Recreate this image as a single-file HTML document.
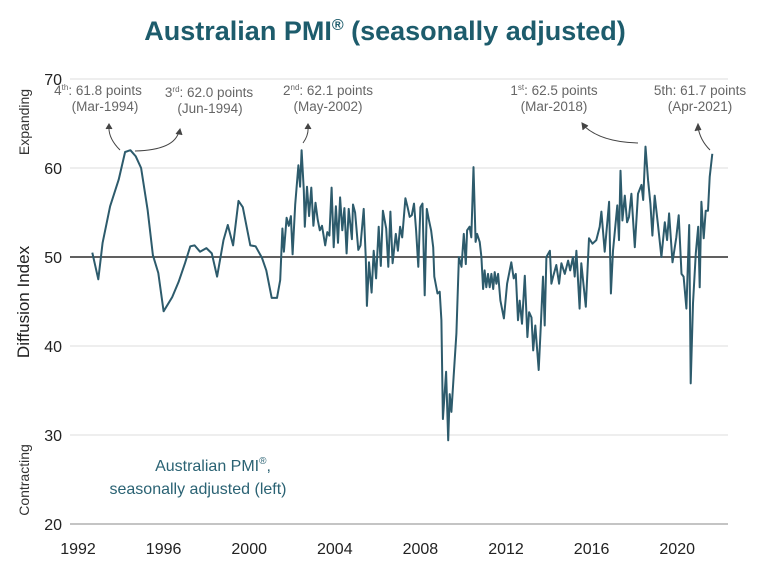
<!DOCTYPE html>
<html><head><meta charset="utf-8"><style>
body{margin:0;background:#fff;width:760px;height:573px;overflow:hidden;font-family:"Liberation Sans",sans-serif}
svg text{font-family:"Liberation Sans",sans-serif}
</style></head><body>
<svg id="chart" width="760" height="573" viewBox="0 0 760 573">
<text x="385" y="40" text-anchor="middle" font-size="27" font-weight="bold" fill="#1d5c6c">Australian PMI<tspan font-size="16" dy="-10">®</tspan><tspan dy="10"> (seasonally adjusted)</tspan></text>
<g id="grid"></g><g id="yticks"></g><g id="xticks"></g>
<text transform="translate(29,302) rotate(-90)" text-anchor="middle" font-size="17" fill="#222">Diffusion Index</text>
<text transform="translate(29,122) rotate(-90)" text-anchor="middle" font-size="14" fill="#333">Expanding</text>
<text transform="translate(29,480) rotate(-90)" text-anchor="middle" font-size="14" fill="#333">Contracting</text>
<text x="213" y="471" text-anchor="middle" font-size="16" fill="#2a6273">Australian PMI<tspan font-size="10" dy="-7">®</tspan><tspan dy="7">,</tspan></text>
<text x="198" y="494" text-anchor="middle" font-size="16" fill="#2a6273">seasonally adjusted (left)</text>
<g font-size="13.5" fill="#666" text-anchor="middle">
<text x="98" y="95">4<tspan font-size="8" dy="-5">th</tspan><tspan dy="5">: 61.8 points</tspan></text><text x="105" y="111">(Mar-1994)</text>
<text x="209" y="97">3<tspan font-size="8" dy="-5">rd</tspan><tspan dy="5">: 62.0 points</tspan></text><text x="210" y="113">(Jun-1994)</text>
<text x="328" y="95">2<tspan font-size="8" dy="-5">nd</tspan><tspan dy="5">: 62.1 points</tspan></text><text x="328" y="111">(May-2002)</text>
<text x="554" y="95">1<tspan font-size="8" dy="-5">st</tspan><tspan dy="5">: 62.5 points</tspan></text><text x="554" y="111">(Mar-2018)</text>
<text x="700" y="95">5th: 61.7 points</text><text x="700" y="111">(Apr-2021)</text>
</g>
<g fill="none" stroke="#444" stroke-width="1">
<path d="M120,150 Q108,138 109,126"/><path d="M106,129 L109,124 L112,129" fill="#444"/>
<path d="M135,151 Q175,150 179,131"/><path d="M176,134 L180,129 L182,135" fill="#444"/>
<path d="M303,143 Q309,135 308,126"/><path d="M305,129 L308,124 L311,129" fill="#444"/>
<path d="M638,143 Q600,142 583,125"/><path d="M583,130 L582,123 L588,126" fill="#444"/>
<path d="M710,150 Q700,140 698,127"/><path d="M695,131 L698,124 L701,130" fill="#444"/>
</g>
<g id="series"></g>
</svg>
<script>
const years=[1992.67,1992.95,1993.15,1993.5,1993.9,1994.2,1994.45,1994.7,1994.95,1995.25,1995.5,1995.75,1996.0,1996.4,1996.7,1997.0,1997.25,1997.45,1997.7,1998.0,1998.25,1998.5,1998.8,1999.0,1999.25,1999.5,1999.7,2000.05,2000.3,2000.6,2000.8,2001.05,2001.3,2001.45,2001.55,2001.62,2001.75,2001.85,2001.95,2002.03,2002.15,2002.3,2002.38,2002.45,2002.55,2002.6,2002.7,2002.8,2002.9,2003.0,2003.1,2003.2,2003.3,2003.4,2003.55,2003.65,2003.75,2003.85,2003.95,2004.05,2004.15,2004.25,2004.35,2004.45,2004.55,2004.65,2004.8,2004.85,2004.95,2005.1,2005.2,2005.35,2005.45,2005.5,2005.6,2005.72,2005.82,2005.93,2006.05,2006.15,2006.25,2006.4,2006.5,2006.6,2006.7,2006.85,2006.95,2007.05,2007.15,2007.3,2007.4,2007.5,2007.6,2007.7,2007.8,2007.9,2008.0,2008.1,2008.2,2008.3,2008.4,2008.5,2008.6,2008.65,2008.8,2008.9,2008.98,2009.05,2009.2,2009.3,2009.37,2009.45,2009.55,2009.68,2009.8,2009.92,2010.03,2010.12,2010.18,2010.3,2010.38,2010.48,2010.58,2010.65,2010.77,2010.85,2010.93,2011.0,2011.08,2011.16,2011.24,2011.32,2011.4,2011.47,2011.55,2011.63,2011.74,2011.9,2012.05,2012.25,2012.36,2012.46,2012.56,2012.64,2012.75,2012.88,2013.0,2013.08,2013.19,2013.27,2013.37,2013.53,2013.62,2013.73,2013.81,2013.89,2014.05,2014.12,2014.2,2014.35,2014.48,2014.59,2014.75,2014.9,2015.0,2015.13,2015.21,2015.29,2015.44,2015.52,2015.73,2015.88,2016.04,2016.22,2016.38,2016.46,2016.61,2016.82,2016.9,2017.0,2017.2,2017.28,2017.35,2017.44,2017.55,2017.66,2017.75,2017.86,2018.02,2018.17,2018.33,2018.41,2018.52,2018.64,2018.75,2018.84,2018.95,2019.1,2019.26,2019.42,2019.53,2019.62,2019.78,2019.96,2020.07,2020.2,2020.3,2020.43,2020.56,2020.63,2020.74,2020.87,2020.98,2021.05,2021.13,2021.24,2021.33,2021.44,2021.52,2021.64];
const pmi=[50.5,47.5,51.6,55.7,58.7,61.8,62.0,61.3,60,55.3,50.2,48.2,43.9,45.5,47.2,49.3,51.2,51.3,50.6,51,50.4,47.8,51.9,53.6,51.3,56.3,55.6,51.3,51.2,49.9,48.5,45.4,45.4,47.4,53.2,50.6,54.4,53.5,54.6,50.3,55.9,60.3,57.9,62.0,57.5,53.4,57.9,54.6,57.8,53.5,56.1,54.2,53,53.5,51.3,52.8,52.4,57.8,51.1,55.7,51.6,56.7,53,55.5,50.4,55.4,52.0,55.9,55,50.8,51.3,55.4,49.8,44.5,49.4,46,50.7,47.6,53.4,49,55.2,53.2,48.9,55.1,49.3,52.6,50.7,53.4,52.2,56.6,55.6,54.5,54.7,56,53,48.9,55.6,56,45.7,55.4,54.1,53,51.1,47.8,45.9,46.1,42.9,31.8,37.1,29.4,34.6,32.6,36.5,41.4,50,48.9,52.6,49.2,53,53.4,52.2,60.1,51.7,52.6,51.7,50,46.4,48.5,46.6,48.1,46.6,48.1,46.4,48.3,47,48.1,45.1,43.1,47,49.4,47.6,48.1,42.9,45.1,42.5,47.9,41,43.8,43.2,39.5,42.3,37.3,42,47.8,42.3,50,50.7,47,47.8,49.1,47,49.3,48.1,49.6,48.5,50,47.8,50.7,44.2,49.3,44.4,52.1,51.5,51.9,53.4,55.1,50.6,56.2,45.9,50.7,55.8,51.9,59.7,54.1,56.9,53.9,54.5,57.1,51.1,57.1,58.1,56.4,62.4,58.6,56,52.4,56.9,53.7,50,53.9,51.9,54.9,49.4,52.2,54.7,48.1,47.8,44.2,53.6,35.8,44.8,50.4,53.4,46.6,56.2,52.1,55.2,55.2,59,61.6];
const yTicks=[20,30,40,50,60,70];
const xTicks=[1992,1996,2000,2004,2008,2012,2016,2020];
const NS='http://www.w3.org/2000/svg';
function xS(t){return 78+(t-1992)*21.4;}
function yS(v){return 257-(v-50)*8.9;}
function mk(tag,attrs,parent){const e=document.createElementNS(NS,tag);for(const k in attrs)e.setAttribute(k,attrs[k]);parent.appendChild(e);return e;}
const grid=document.getElementById('grid'),yt=document.getElementById('yticks'),xt=document.getElementById('xticks'),ser=document.getElementById('series');
yTicks.forEach(v=>{
  if(v!==20&&v!==50){const l=mk('line',{x1:70,x2:728,y1:yS(v),y2:yS(v),stroke:'#ddd','stroke-width':1},grid);
  
  }
  const t=mk('text',{x:62,y:yS(v)+6,'text-anchor':'end','font-size':16,fill:'#222'},yt);t.textContent=v;
  
  
});
const base=mk('line',{x1:70,x2:728,y1:yS(50),y2:yS(50),stroke:'#000','stroke-width':1.2},grid);


const xa=mk('line',{x1:70,x2:728,y1:yS(20),y2:yS(20),stroke:'#888','stroke-width':1},grid);


xTicks.forEach(y=>{
  const t=mk('text',{x:xS(y),y:554,'text-anchor':'middle','font-size':16,fill:'#222'},xt);t.textContent=y;
  
  
});
const d=years.map((t,i)=>(i?'L':'M')+xS(t).toFixed(1)+','+yS(pmi[i]).toFixed(1)).join(' ');
const p=mk('path',{d:d,fill:'none',stroke:'#2d5b6c','stroke-width':2,'stroke-linejoin':'round'},ser);


</script>
</body></html>
